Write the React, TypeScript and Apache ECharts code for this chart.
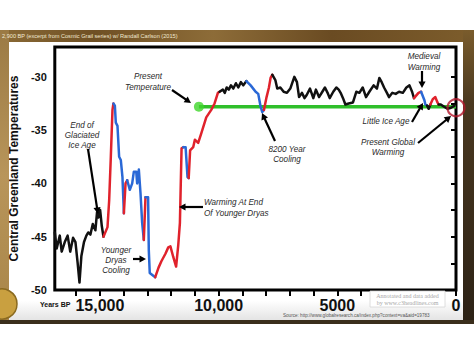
import React, { useEffect, useRef } from "react";
import * as echarts from "echarts";

type Pt = [number, number];

// [years before present, central Greenland temperature °C]
const glacialBlack: Pt[] = [[16900,-44.6],[16820,-46.1],[16690,-44.9],[16610,-46.4],[16480,-45.5],[16360,-44.9],[16250,-46.4],[16130,-45.1],[16030,-45.5],[15940,-47.4],[15860,-49.3],[15780,-46.8],[15670,-45.5],[15570,-44.9],[15490,-44.6],[15400,-44.8],[15300,-43.8],[15190,-44.4],[15120,-42.7],[15060,-43.2],[14990,-42.5],[14920,-44.0],[14850,-45.0]];
const warming1Red: Pt[] = [[14850,-45.0],[14680,-44.1],[14610,-41.6],[14540,-37.5],[14470,-33.1],[14430,-32.5]];
const cooling1Blue: Pt[] = [[14430,-32.5],[14370,-32.7],[14330,-34.3],[14260,-34.6],[14190,-37.5],[14120,-37.8],[14050,-39.4],[13990,-42.8]];
const warming2Red: Pt[] = [[13990,-42.8],[13920,-40.0],[13850,-39.7]];
const cooling2Blue: Pt[] = [[13850,-39.7],[13740,-40.6],[13640,-40.0],[13570,-38.9],[13470,-38.9],[13430,-40.0],[13360,-38.7],[13290,-40.9],[13220,-43.7],[13150,-45.3]];
const warming3Red: Pt[] = [[13150,-45.3],[13080,-41.3]];
const cooling3Blue: Pt[] = [[13080,-41.3],[12970,-41.3],[12940,-46.3],[12900,-48.4],[12670,-48.8]];
const recoveryRed: Pt[] = [[12670,-48.8],[12530,-47.9],[12410,-47.3],[12240,-46.6],[12120,-46.0],[12030,-45.9],[11910,-46.9],[11790,-47.8],[11700,-45.8],[11630,-43.7],[11560,-36.7],[11490,-36.6]];
const dipBlue: Pt[] = [[11490,-36.6],[11390,-36.6],[11310,-39.4],[11260,-39.5]];
const holoceneRiseRed: Pt[] = [[11260,-39.5],[11200,-36.9],[11070,-36.6],[11000,-35.9],[10860,-36.2],[10730,-35.3],[10520,-33.8],[10310,-33.1],[10170,-32.5],[10030,-31.5],[9960,-31.4]];
const earlyHoloceneBlack: Pt[] = [[9960,-31.4],[9820,-31.2],[9740,-31.5],[9660,-31.0],[9570,-31.2],[9480,-30.8],[9380,-31.1],[9270,-30.6],[9170,-31.0],[9060,-30.5],[8960,-30.8],[8830,-30.4]];
const event8200Blue: Pt[] = [[8830,-30.4],[8650,-30.8],[8440,-31.4],[8330,-31.6],[8230,-32.8],[8160,-33.3],[8090,-33.1]];
const recovery8200Red: Pt[] = [[8090,-33.1],[7980,-31.9],[7880,-31.0],[7810,-30.1],[7740,-29.8]];
const midHoloceneBlack: Pt[] = [[7740,-29.8],[7610,-30.3],[7530,-31.1],[7400,-31.0],[7260,-31.4],[7120,-31.5],[6980,-31.1],[6810,-30.0],[6700,-30.5],[6610,-31.9],[6490,-31.5],[6380,-32.0],[6290,-31.7],[6150,-31.1],[6010,-32.0],[5900,-31.2],[5770,-31.9],[5630,-31.4],[5520,-31.0],[5410,-31.5],[5320,-32.0],[5170,-31.4],[5040,-31.0],[4940,-31.2],[4860,-31.5],[4760,-32.0],[4660,-32.6],[4520,-32.5],[4340,-32.4],[4200,-31.4],[4070,-31.5],[3930,-31.0],[3790,-31.9],[3650,-31.4],[3470,-30.8],[3330,-31.1],[3230,-30.1],[3130,-30.5],[3030,-31.0],[2910,-31.5],[2820,-31.9],[2680,-31.5],[2540,-31.6],[2400,-31.4],[2240,-31.5],[2090,-31.0],[1960,-30.8],[1850,-31.4],[1770,-32.0]];
const medievalRed: Pt[] = [[1770,-32.0],[1580,-31.5],[1470,-31.4]];
const littleIceAgeBlue: Pt[] = [[1470,-31.4],[1330,-32.2],[1290,-32.6],[1220,-32.7]];
const lateBlack1: Pt[] = [[1220,-32.7],[1150,-33.0],[1080,-32.6]];
const lateRed: Pt[] = [[1080,-32.6],[980,-32.1],[870,-31.9],[780,-32.4],[730,-32.6]];
const lateBlack2: Pt[] = [[730,-32.6],[640,-32.6],[500,-32.8],[360,-33.0],[210,-32.9],[60,-32.7]];

const presentTemperature: Pt[] = [[10830,-32.8],[0,-32.8]];
const presentMarker: Pt[] = [[0,-32.9]];

const xTickValues = [0,1000,2000,3000,4000,5000,6000,7000,8000,9000,10000,11000,12000,13000,14000,15000,16000];
const xLabelValues = [0,5000,10000,15000];
const xLabelText: Record<string,string> = { "15000": "15,000", "10000": "10,000", "5000": "5000", "0": "0" };
const yTickValues = [-50,-47.5,-45,-42.5,-40,-37.5,-35,-32.5,-30];
const yLabelValues = [-50,-45,-40,-35,-30];

const BLACK = "#111111";
const RED = "#e0222c";
const BLUE = "#2a68d6";
const GREEN = "#2fbf2a";

const segments: { color: string; data: Pt[] }[] = [
  { color: BLACK, data: glacialBlack },
  { color: RED, data: warming1Red },
  { color: BLUE, data: cooling1Blue },
  { color: RED, data: warming2Red },
  { color: BLUE, data: cooling2Blue },
  { color: RED, data: warming3Red },
  { color: BLUE, data: cooling3Blue },
  { color: RED, data: recoveryRed },
  { color: BLUE, data: dipBlue },
  { color: RED, data: holoceneRiseRed },
  { color: BLACK, data: earlyHoloceneBlack },
  { color: BLUE, data: event8200Blue },
  { color: RED, data: recovery8200Red },
  { color: BLACK, data: midHoloceneBlack },
  { color: RED, data: medievalRed },
  { color: BLUE, data: littleIceAgeBlue },
  { color: BLACK, data: lateBlack1 },
  { color: RED, data: lateRed },
  { color: BLACK, data: lateBlack2 },
];

const FONT = '"Liberation Sans", Arial, sans-serif';
const ANN_FONT = '"Liberation Sans", Arial, sans-serif';

function arrow(x1: number, y1: number, x2: number, y2: number, w = 2.2, head = 6.5) {
  const dx = x2 - x1, dy = y2 - y1;
  const L = Math.hypot(dx, dy);
  const ux = dx / L, uy = dy / L;
  const bx = x2 - ux * head, by = y2 - uy * head;
  const px = -uy, py = ux;
  const hw = head * 0.55;
  return [
    { type: "line", z: 20, shape: { x1, y1, x2: bx + ux, y2: by + uy }, style: { stroke: "#000", lineWidth: w } },
    { type: "polygon", z: 20, shape: { points: [[x2, y2], [bx + px * hw, by + py * hw], [bx - px * hw, by - py * hw]] }, style: { fill: "#000" } },
  ];
}

function ann(text: string, x: number, y: number, align = "center", lh = 10.5) {
  return {
    type: "text", x, y, z: 20, scaleX: 0.86,
    style: { text, fill: "#2a2a2a", fontStyle: "italic", fontSize: 9.5, fontFamily: ANN_FONT, align, verticalAlign: "middle", lineHeight: lh },
  };
}

export default function App() {
  const ref = useRef<HTMLDivElement>(null);
  useEffect(() => {
    document.body.style.margin = "0";
    const chart = echarts.init(ref.current!, null, { renderer: "svg" });
    const series: any[] = segments.map((s) => ({
      type: "line", data: s.data, symbol: "none", showSymbol: false, silent: true, z: 5,
      lineStyle: { color: s.color, width: 2.5, join: "round", cap: "round" },
    }));
    series.unshift({
      type: "line", data: presentTemperature, symbol: "none", silent: true, z: 4,
      lineStyle: { color: GREEN, width: 3.5 },
    });
    series.push({
      type: "scatter", data: [presentTemperature[0]], symbol: "circle", symbolSize: 10, silent: true, z: 6,
      itemStyle: { color: "#3fd62a" },
    });
    series.push({
      type: "scatter", data: presentMarker, symbol: "circle", symbolSize: 17, silent: true, z: 9,
      itemStyle: { color: "rgba(0,0,0,0)", borderColor: "#b3182c", borderWidth: 2.2 },
    });

    const graphic: any[] = [
      { type: "rect", z: 0, shape: { x: 0, y: 30, width: 474, height: 12 },
        style: { fill: new echarts.graphic.LinearGradient(0, 0, 1, 0, [
          { offset: 0, color: "#8a6a36" }, { offset: 0.2, color: "#6f5024" }, { offset: 0.45, color: "#8d6c38" },
          { offset: 0.7, color: "#6a4b22" }, { offset: 1, color: "#7d5d2c" }]) } },
      { type: "rect", z: 0, shape: { x: 0, y: 30, width: 9, height: 292 },
        style: { fill: new echarts.graphic.LinearGradient(0, 0, 0, 1, [
          { offset: 0, color: "#9b7a44" }, { offset: 0.5, color: "#b8955a" }, { offset: 1, color: "#a88548" }]) } },
      { type: "rect", z: 0, shape: { x: 463, y: 30, width: 11, height: 293 },
        style: { fill: new echarts.graphic.LinearGradient(0, 0, 0, 1, [
          { offset: 0, color: "#7a5c2c" }, { offset: 0.25, color: "#4a3820" }, { offset: 1, color: "#2c2216" }]) } },
      { type: "rect", z: 1, shape: { x: 9, y: 42, width: 454, height: 278 },
        style: { fill: new echarts.graphic.LinearGradient(0, 0, 0, 1, [
          { offset: 0, color: "#ffffff" }, { offset: 0.93, color: "#ffffff" }, { offset: 1, color: "#e4e4e4" }]) } },
      { type: "rect", z: 1, shape: { x: 0, y: 320, width: 474, height: 4 }, style: { fill: "#3a2e1c" } },
      { type: "circle", z: 1, shape: { cx: 2, cy: 304, r: 15 }, style: { fill: "#c9a040", stroke: "#8a6a20", lineWidth: 1.5 } },
      { type: "text", z: 3, x: 2, y: 35.5,
        style: { text: "2,900 BP (excerpt from Cosmic Grail series) w/ Randall Carlson (2015)", fill: "#f1e9d2", fontSize: 5.6, fontFamily: FONT, align: "left", verticalAlign: "middle" } },
      { type: "text", z: 10, x: 40, y: 304,
        style: { text: "Years BP", fill: "#111", fontSize: 7, fontWeight: "bold", fontFamily: FONT, align: "left", verticalAlign: "middle" } },
      { type: "rect", z: 12, shape: { x: 370, y: 291, width: 75, height: 16 }, style: { fill: "#fff", stroke: "#d6d6d6", lineWidth: 0.8 } },
      { type: "text", z: 13, x: 407.5, y: 299,
        style: { text: "Annotated and data added\nby www.c3headlines.com", fill: "#a8a8a8", fontSize: 6, lineHeight: 7, fontFamily: '"Liberation Serif", serif', align: "center", verticalAlign: "middle" } },
      { type: "text", z: 13, x: 283, y: 315,
        style: { text: "Source: http://www.globalresearch.ca/index.php?context=va&aid=19783", fill: "#555", fontSize: 4.6, fontFamily: FONT, align: "left", verticalAlign: "middle" } },
      ann("Present\nTemperature", 148, 81.5, "center", 11),
      ann("End of\nGlaciated\nIce Age", 82, 135, "center", 10),
      ann("Younger\nDryas\nCooling", 116, 260, "center", 10),
      ann("Warming At End\nOf Younger Dryas", 204, 207, "left", 11),
      ann("8200 Year\nCooling", 287, 154, "center", 10),
      ann("Medieval\nWarming", 424, 61.5, "center", 11),
      ann("Little Ice Age", 386, 121, "center", 10),
      ann("Present Global\nWarming", 388, 147, "center", 10),
      ...arrow(172, 90, 191, 103),
      ...arrow(88, 149, 98, 214),
      ...arrow(133, 259, 146, 259),
      ...arrow(203, 207, 179, 207),
      ...arrow(275, 141, 262, 113),
      ...arrow(422, 71, 422, 88),
      ...arrow(412, 122, 423, 103),
      ...arrow(418, 143, 451, 116),
    ];

    chart.setOption({
      animation: false,
      backgroundColor: "#ffffff",
      grid: { left: 50, top: 47, width: 406, height: 243, show: true, borderColor: "#000", borderWidth: 3, backgroundColor: "#fff", z: 2 },
      xAxis: {
        type: "value", inverse: true, min: 0, max: 16900, interval: 1000, z: 3,
        axisLine: { show: false }, splitLine: { show: false },
        axisTick: { show: true, length: 6, lineStyle: { color: "#000", width: 2 }, customValues: xTickValues },
        axisLabel: {
          customValues: xLabelValues, margin: 7, fontSize: 16, fontWeight: "bold", color: "#111", fontFamily: FONT,
          formatter: (v: number) => xLabelText[String(v)] ?? "",
        },
      },
      yAxis: {
        type: "value", min: -50, max: -27.2, interval: 2.5, z: 3,
        name: "Central Greenland Temperatures", nameLocation: "middle", nameGap: 31,
        nameTextStyle: { fontSize: 12, fontWeight: "bold", color: "#111", fontFamily: FONT },
        axisLine: { show: false }, splitLine: { show: false },
        axisTick: { show: true, length: 5, lineStyle: { color: "#000", width: 2 }, customValues: yTickValues },
        axisLabel: {
          customValues: yLabelValues, margin: 8, fontSize: 11, fontWeight: "bold", color: "#111", fontFamily: FONT,
          formatter: (v: number) => (yLabelValues.indexOf(v) >= 0 ? String(v) : ""),
        },
      },
      series,
      graphic,
    });
    return () => chart.dispose();
  }, []);
  return <div ref={ref} style={{ width: 474, height: 355 }} />;
}
